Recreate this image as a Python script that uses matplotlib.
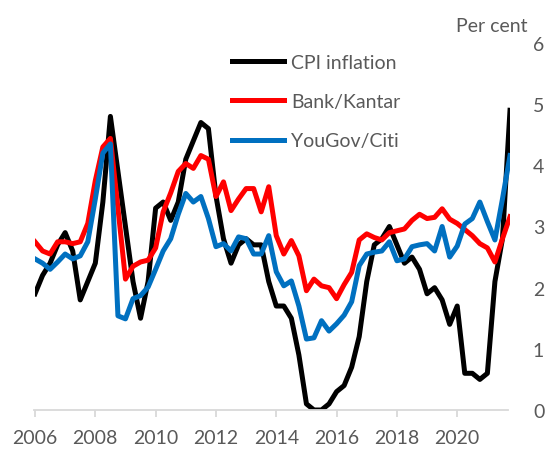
import numpy as np
import matplotlib
matplotlib.use("Agg")
import matplotlib.pyplot as plt

# quarterly data, 2006 Q1 to 2021 Q4
cpi = [1.9, 2.2, 2.4, 2.7, 2.9, 2.6, 1.8, 2.1, 2.4, 3.4, 4.8, 3.9, 3.0, 2.1, 1.5, 2.1,
       3.3, 3.4, 3.1, 3.4, 4.1, 4.4, 4.7, 4.6, 3.5, 2.8, 2.4, 2.7, 2.8, 2.7, 2.7, 2.1,
       1.7, 1.7, 1.5, 0.9, 0.1, 0.0, 0.0, 0.1, 0.3, 0.4, 0.7, 1.2, 2.1, 2.7, 2.8, 3.0,
       2.7, 2.4, 2.5, 2.3, 1.9, 2.0, 1.8, 1.4, 1.7, 0.6, 0.6, 0.5, 0.6, 2.1, 2.8, 4.9]
bank_kantar = [2.75, 2.6, 2.55, 2.75, 2.75, 2.72, 2.75, 3.05, 3.75, 4.3, 4.44, 3.3, 2.14, 2.35, 2.42, 2.45,
               2.65, 3.24, 3.55, 3.9, 4.03, 3.95, 4.16, 4.1, 3.49, 3.73, 3.26, 3.45, 3.62, 3.62, 3.24, 3.65,
               2.85, 2.55, 2.77, 2.52, 1.95, 2.14, 2.03, 2.0, 1.82, 2.05, 2.25, 2.78, 2.88, 2.82, 2.78, 2.9,
               2.93, 2.96, 3.1, 3.2, 3.13, 3.15, 3.29, 3.12, 3.05, 2.95, 2.85, 2.72, 2.65, 2.42, 2.8, 3.16]
yougov_citi = [2.47, 2.4, 2.3, 2.42, 2.55, 2.47, 2.52, 2.75, 3.45, 4.2, 4.35, 1.54, 1.49, 1.82, 1.87, 2.01,
               2.3, 2.6, 2.8, 3.2, 3.54, 3.4, 3.49, 3.13, 2.67, 2.72, 2.6, 2.83, 2.8, 2.55, 2.55, 2.85,
               2.26, 2.03, 2.11, 1.7, 1.16, 1.18, 1.46, 1.29, 1.41, 1.55, 1.77, 2.36, 2.55, 2.58, 2.6, 2.75,
               2.44, 2.47, 2.67, 2.7, 2.72, 2.6, 3.0, 2.5, 2.68, 3.04, 3.13, 3.4, 3.08, 2.78, 3.45, 4.16]
year_labels = ["2006", "2008", "2010", "2012", "2014", "2016", "2018", "2020"]

plt.rcParams['font.family'] = ['Lato', 'DejaVu Sans']
grey = "#595959"

x = np.arange(len(cpi))

fig = plt.figure(figsize=(5.47, 4.52), dpi=100)
ax = fig.add_axes([35 / 547, 41 / 452, 475 / 547, 367 / 452])

lw = 3.6
ax.plot(x, cpi, color="black", lw=lw, label="CPI inflation")
ax.plot(x, bank_kantar, color="#FF0000", lw=lw, label="Bank/Kantar")
ax.plot(x, yougov_citi, color="#0070C0", lw=lw, label="YouGov/Citi")

ax.set_xlim(0, len(cpi) - 1)
ax.set_ylim(0, 6)
ax.set_xticks(np.arange(0, len(cpi), 8))
ax.set_xticklabels(year_labels)
ax.set_yticks(range(7))

for s in ["top", "left", "right"]:
    ax.spines[s].set_visible(False)
ax.spines["bottom"].set_color("#D9D9D9")
ax.spines["bottom"].set_linewidth(1.3)
ax.spines["bottom"].set_bounds(-0.1, len(cpi) - 1.3)

ax.tick_params(axis="x", direction="out", length=5, width=1.3, color="#D9D9D9",
               labelsize=14, labelcolor=grey, pad=9)
ax.tick_params(axis="y", left=False, right=False, labelleft=False, labelright=True,
               labelsize=14, labelcolor=grey, pad=13)

fig.text(528 / 547, 1 - 26 / 452, "Per cent", ha="right", va="center", fontsize=14, color=grey)

leg = ax.legend(loc="upper left", bbox_to_anchor=(222 / 547, 1 - 45 / 452),
                bbox_transform=fig.transFigure, frameon=False, fontsize=14,
                handlelength=2.7, handletextpad=0.35, labelspacing=1.15, borderpad=0)
for t in leg.get_texts():
    t.set_color(grey)

fig.savefig("out.png", dpi=100)
